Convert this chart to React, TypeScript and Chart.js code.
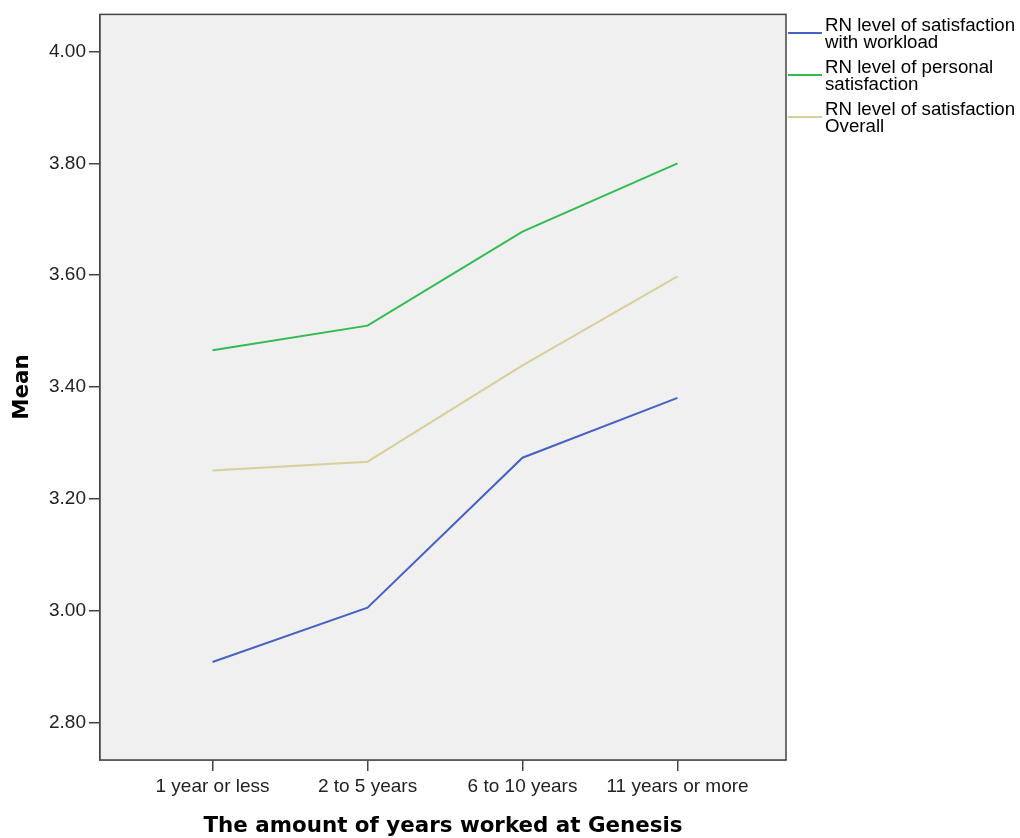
import React, { useEffect, useRef } from "react";
import { Chart, registerables } from "chart.js";

Chart.register(...registerables);

const categories = ["1 year or less", "2 to 5 years", "6 to 10 years", "11 years or more"];
const workload = [2.909, 3.006, 3.274, 3.381];
const personal = [3.466, 3.510, 3.678, 3.800];
const overall = [3.251, 3.267, 3.439, 3.598];
const yTicks = [2.8, 3.0, 3.2, 3.4, 3.6, 3.8, 4.0];
const seriesNames = [
  ["RN level of satisfaction", "with workload"],
  ["RN level of personal", "satisfaction"],
  ["RN level of satisfaction", "Overall"],
];
const seriesColors = ["#4862c4", "#32bc50", "#d6d09a"];
const xTitle = "The amount of years worked at Genesis";
const yTitle = "Mean";

export default function App() {
  const ref = useRef<HTMLCanvasElement | null>(null);
  useEffect(() => {
    const canvas = ref.current;
    if (!canvas) return;
    const toPts = (arr: number[]) => arr.map((v, i) => ({ x: i, y: v }));
    const font = "Liberation Sans, Arial, sans-serif";
    const decor = {
      id: "decor",
      beforeDatasetsDraw(chart: any) {
        const { ctx, chartArea: a } = chart;
        ctx.save();
        ctx.fillStyle = "#f0f0f0";
        ctx.fillRect(a.left, a.top, a.right - a.left, a.bottom - a.top);
        ctx.restore();
      },
      afterDraw(chart: any) {
        const { ctx, chartArea: a } = chart;
        ctx.save();
        ctx.strokeStyle = "#444";
        ctx.lineWidth = 1.5;
        ctx.strokeRect(a.left, a.top, a.right - a.left, a.bottom - a.top);
        // titles
        ctx.fillStyle = "#000";
        ctx.font = "bold 21.4px 'DejaVu Sans', sans-serif";
        ctx.textAlign = "center";
        ctx.textBaseline = "middle";
        ctx.fillText(xTitle, (a.left + a.right) / 2, 826);
        ctx.save();
        ctx.translate(22, 387);
        ctx.rotate(-Math.PI / 2);
        ctx.fillText(yTitle, 0, 0);
        ctx.restore();
        // legend
        ctx.font = `18.7px ${font}`;
        ctx.textAlign = "left";
        ctx.textBaseline = "middle";
        seriesNames.forEach((lines, i) => {
          const y0 = 26 + i * 42;
          ctx.strokeStyle = seriesColors[i];
          ctx.lineWidth = 2;
          ctx.beginPath();
          ctx.moveTo(788, y0 + 7);
          ctx.lineTo(822, y0 + 7);
          ctx.stroke();
          ctx.fillStyle = "#000";
          lines.forEach((t, j) => ctx.fillText(t, 825, y0 + j * 17));
        });
        ctx.restore();
      },
    };
    const chart = new Chart(canvas, {
      type: "line",
      data: {
        datasets: [workload, personal, overall].map((d, i) => ({
          label: seriesNames[i].join(" "),
          data: toPts(d),
          borderColor: seriesColors[i],
          backgroundColor: seriesColors[i],
          borderWidth: 2,
          pointRadius: 0,
          tension: 0,
        })),
      },
      options: {
        animation: false,
        responsive: false,
        maintainAspectRatio: false,
        layout: { padding: { left: 0, top: 12, right: 234, bottom: 0 } },
        plugins: { legend: { display: false }, tooltip: { enabled: false } },
        scales: {
          x: {
            type: "linear",
            min: -0.726,
            max: 3.7,
            afterBuildTicks: (s: any) => {
              s.ticks = categories.map((_, i) => ({ value: i }));
            },
            afterFit: (s: any) => {
              s.height = 78;
            },
            ticks: {
              callback: (v: any) => categories[v as number] ?? "",
              color: "#222",
              font: { family: font, size: 19 },
              padding: 4,
              maxRotation: 0,
              autoSkip: false,
            },
            grid: { display: true, drawOnChartArea: false, drawTicks: true, tickLength: 11, color: "#444", lineWidth: 1.5 },
            border: { display: true, color: "#444", width: 1.5 },
          },
          y: {
            type: "linear",
            min: 2.734,
            max: 4.066,
            afterBuildTicks: (s: any) => {
              s.ticks = yTicks.map((v) => ({ value: v }));
            },
            afterFit: (s: any) => {
              s.width = 100;
            },
            ticks: {
              callback: (v: any) => Number(v).toFixed(2),
              color: "#222",
              font: { family: font, size: 19 },
              padding: 3,
            },
            grid: { display: true, drawOnChartArea: false, drawTicks: true, tickLength: 11, color: "#444", lineWidth: 1.5 },
            border: { display: true, color: "#444", width: 1.5 },
          },
        },
      },
      plugins: [decor],
    } as any);
    return () => chart.destroy();
  }, []);
  return (
    <div style={{ position: "fixed", left: 0, top: 0, width: 1020, height: 838, background: "#fff" }}>
      <canvas ref={ref} width={1020} height={838} style={{ width: 1020, height: 838, display: "block" }} />
    </div>
  );
}
